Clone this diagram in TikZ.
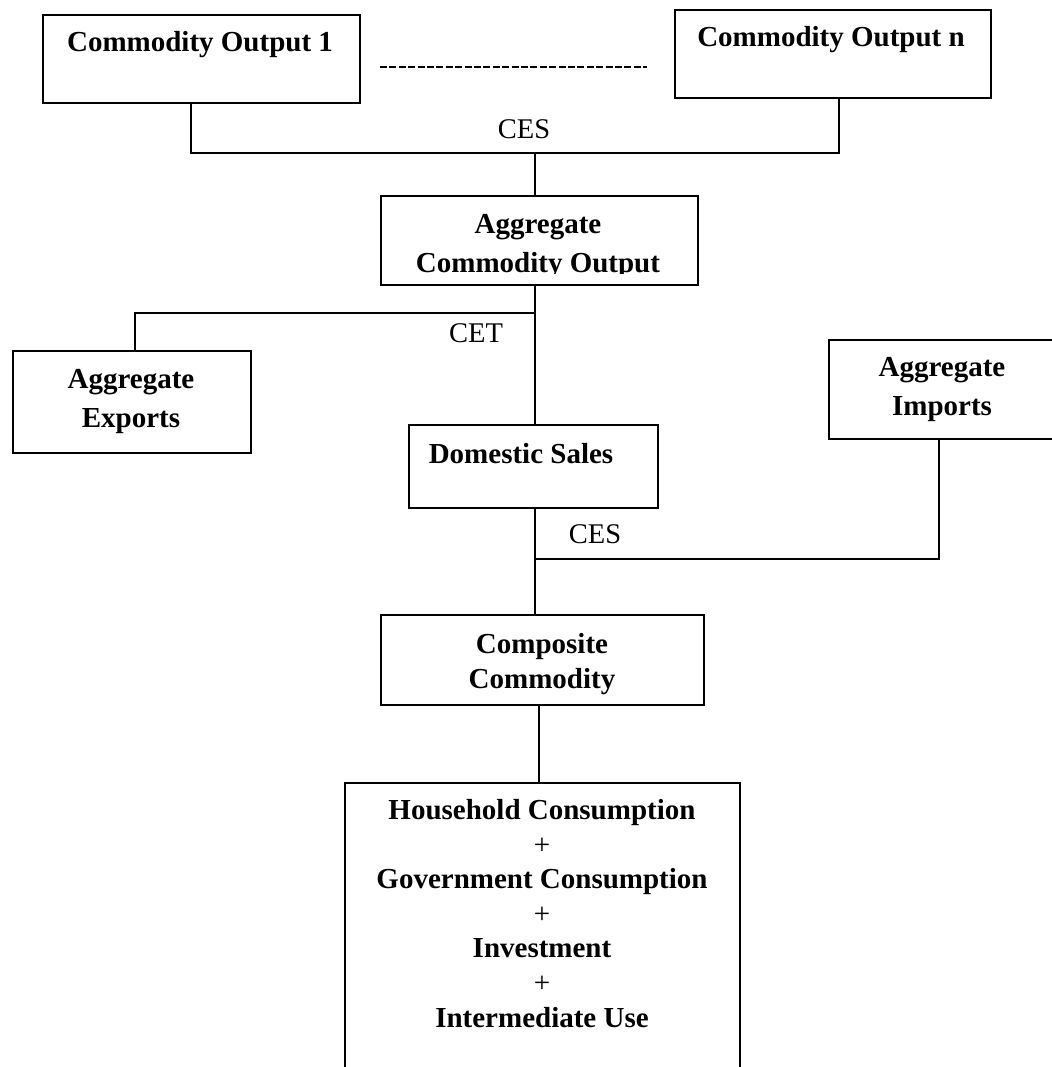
\documentclass[tikz,border=0pt]{standalone}
\usepackage{fontspec}
\setmainfont{Liberation Serif}
\begin{document}
\begin{tikzpicture}[x=1pt,y=-1pt,
  box/.style={draw, line width=2.2pt, inner sep=0pt, anchor=north west},
  lbl/.style={font=\fontsize{29}{34.6}\selectfont\bfseries, anchor=base, inner sep=0pt, align=center},
  lblw/.style={font=\fontsize{29}{39}\selectfont\bfseries, anchor=base, inner sep=0pt, align=center},
  rlbl/.style={font=\fontsize{28.5}{34}\selectfont, anchor=base, inner sep=0pt},
  conn/.style={line width=1.9pt}]
\useasboundingbox (0,0) rectangle (1051,1067);
\fill[white] (0,0) rectangle (1051,1067);

% boxes
\node[box, minimum width=317pt, minimum height=88pt] (b1) at (42,14) {};
\node[box, minimum width=316pt, minimum height=88pt] (bn) at (674,9) {};
\node[box, minimum width=317pt, minimum height=89pt] (agg) at (380,195) {};
\node[box, minimum width=238pt, minimum height=102pt] (exp) at (12,350) {};
\node[box, minimum width=240pt, minimum height=99pt] (imp) at (828,339) {};
\node[box, minimum width=249pt, minimum height=83pt] (dom) at (408,424) {};
\node[box, minimum width=323pt, minimum height=90pt] (comp) at (380,614) {};
\node[box, minimum width=395pt, minimum height=320pt] (use) at (344,782) {};

% texts (multi-line nodes are placed at the baseline of their last line)
\node[lbl] (t1) at (200,52) {Commodity Output 1};
\node[lbl] (tn) at (831,47) {Commodity Output n};
\draw[line width=2.6pt, dash pattern=on 7pt off 2.4pt] (380,67) -- (647,67);
\node[rlbl] (ces1) at (524,139) {CES};
\begin{scope}
  \clip (380,195) rectangle (697,273);
  \node[lblw] (tagg) at (538,272) {Aggregate\\Commodity Output};
\end{scope}
\node[rlbl] (cet) at (476,342) {CET};
\node[lblw] (texp) at (131,427) {Aggregate\\Exports};
\node[lblw] (timp) at (942,415) {Aggregate\\Imports};
\node[lbl] (tdom) at (521,463) {Domestic Sales};
\node[rlbl] (ces2) at (595,543) {CES};
\node[lbl] (tcomp) at (542,688) {Composite\\Commodity};
\node[lbl] (tuse) at (542,1027) {Household Consumption\\{\mdseries +}\\Government Consumption\\{\mdseries +}\\Investment\\{\mdseries +}\\Intermediate Use};

% connectors
\coordinate (j1) at (535,153);
\coordinate (j2) at (535,313);
\coordinate (j3) at (535,559);
\draw[conn] ([xshift=-10.5pt]b1.south) |- (j1) -| ([xshift=6pt]bn.south);
\draw[conn] (j1) -- (j1 |- agg.north);
\draw[conn] (j1 |- agg.south) -- (j1 |- dom.north);
\draw[conn] (j2) -| ([xshift=3pt]exp.north);
\draw[conn] (j1 |- dom.south) -- (j1 |- comp.north);
\draw[conn] (j3) -| ([xshift=-10pt]imp.south);
\draw[conn] ([xshift=-3.5pt]comp.south) -- ([xshift=-3.5pt]comp.south |- use.north);
\end{tikzpicture}
\end{document}
